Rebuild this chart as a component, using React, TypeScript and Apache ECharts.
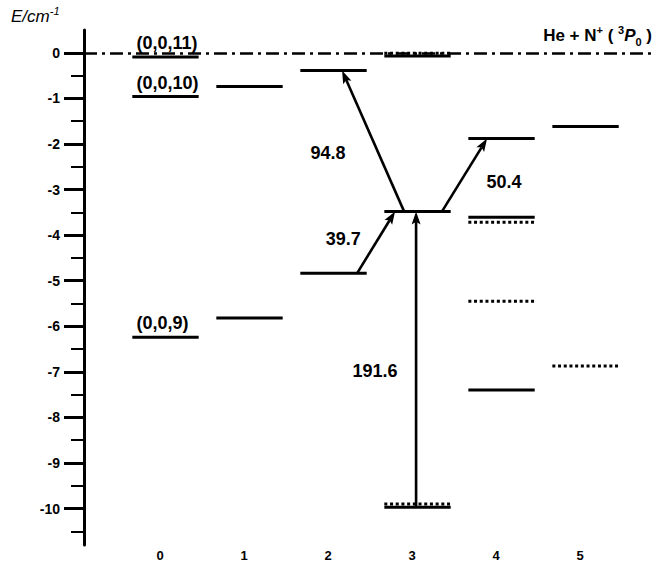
import React, { useEffect, useRef } from 'react';
import * as echarts from 'echarts';

// ---- data ----
const columnTicks = [0, 1, 2, 3, 4, 5];
const energyTicks = [0, -1, -2, -3, -4, -5, -6, -7, -8, -9, -10];
const minorEnergyTicks = [-0.5, -1.5, -2.5, -3.5, -4.5, -5.5, -6.5, -7.5, -8.5, -9.5, -10.5];

// [column, energy / cm^-1]
const solidLevels: number[][] = [
  [0, -0.09], [0, -0.96], [0, -6.24],
  [1, -0.74], [1, -5.82],
  [2, -0.39], [2, -4.84],
  [3, -0.07], [3, -3.48], [3, -9.97],
  [4, -1.88], [4, -3.61], [4, -7.4],
  [5, -1.62],
];
const dottedLevels: number[][] = [
  [3, -0.01], [3, -9.9],
  [4, -3.72], [4, -5.45],
  [5, -6.87],
];
const levelLabelColumn = [0, 0, 0];
const levelLabelEnergy = [-0.09, -0.96, -6.24];
const levelLabelText = ['(0,0,11)', '(0,0,10)', '(0,0,9)'];

// arrows: start [x, E], end [x, E]
const arrowFrom: number[][] = [[2.905, -3.48], [3.357, -3.48], [2.345, -4.84], [3.048, -9.95]];
const arrowTo: number[][] = [[2.167, -0.39], [3.893, -1.88], [2.798, -3.48], [3.048, -3.48]];
const arrowText = ['94.8', '50.4', '39.7', '191.6'];
const arrowTextAt: number[][] = [[2.0, -2.19], [4.095, -2.84], [2.18, -4.09], [2.56, -6.98]];

const dissociationEnergy = 0;

const FONT = '"Liberation Sans", Arial, Helvetica, sans-serif';
const LEVEL_LEFT = -0.33;
const LEVEL_RIGHT = 0.46;

export default function App() {
  const ref = useRef<HTMLDivElement>(null);
  useEffect(() => {
    document.body.style.margin = '0';
    const chart = echarts.init(ref.current as HTMLDivElement, null, { renderer: 'svg' });

    const levelSeries = (data: number[][], dash: number[] | null) => ({
      type: 'custom',
      coordinateSystem: 'cartesian2d',
      silent: true,
      clip: false,
      data,
      renderItem: (_p: any, api: any) => {
        const n = api.value(0);
        const e = api.value(1);
        const a = api.coord([n + LEVEL_LEFT, e]);
        const b = api.coord([n + LEVEL_RIGHT, e]);
        return {
          type: 'line',
          shape: { x1: a[0], y1: a[1], x2: b[0], y2: b[1] },
          style: { stroke: '#000', lineWidth: 3, lineDash: dash || undefined },
        };
      },
    });

    const arrowData = arrowFrom.map((f, i) => [f[0], f[1], arrowTo[i][0], arrowTo[i][1]]);

    const option: any = {
      animation: false,
      grid: { left: 84, right: 0, top: 30, bottom: 15 },
      xAxis: {
        type: 'value',
        min: -0.905,
        max: 5.88,
        axisLine: { show: false, onZero: false },
        axisTick: { show: false },
        splitLine: { show: false },
        axisLabel: {
          customValues: columnTicks,
          margin: 4,
          fontSize: 13,
          fontWeight: 'bold',
          fontFamily: FONT,
          color: '#000',
        },
      },
      yAxis: [
        {
          type: 'value',
          min: -10.8,
          max: 0.5,
          position: 'left',
          axisLine: { show: true, onZero: false, lineStyle: { color: '#000', width: 3 } },
          axisTick: { show: true, customValues: energyTicks, length: 20, lineStyle: { color: '#000', width: 3 } },
          axisLabel: {
            customValues: energyTicks,
            margin: 24,
            fontSize: 14,
            fontWeight: 'bold',
            fontFamily: FONT,
            color: '#000',
          },
          splitLine: { show: false },
        },
        {
          type: 'value',
          min: -10.8,
          max: 0.5,
          position: 'left',
          axisLine: { show: false, onZero: false },
          axisTick: { show: true, customValues: minorEnergyTicks, length: 13, lineStyle: { color: '#000', width: 2 } },
          axisLabel: { show: false },
          splitLine: { show: false },
        },
      ],
      graphic: [
        {
          type: 'text',
          left: 11,
          top: 5,
          style: {
            text: '{i|E/cm}{s|-1}',
            rich: {
              i: { fontSize: 17, fontStyle: 'italic', fontFamily: FONT, fill: '#000', lineHeight: 22 },
              s: { fontSize: 11, fontStyle: 'italic', fontFamily: FONT, fill: '#000', lineHeight: 11, verticalAlign: 'top' },
            },
          },
        },
        {
          type: 'text',
          right: 2,
          top: 24,
          style: {
            text: '{b|He + N}{sup|+}{b| ( }{sup|3}{i|P}{sub|0}{b| )}',
            rich: {
              b: { fontSize: 17, fontWeight: 'bold', fontFamily: FONT, fill: '#000', lineHeight: 23 },
              i: { fontSize: 17, fontWeight: 'bold', fontStyle: 'italic', fontFamily: FONT, fill: '#000', lineHeight: 23 },
              sup: { fontSize: 11, fontWeight: 'bold', fontFamily: FONT, fill: '#000', lineHeight: 11, verticalAlign: 'top' },
              sub: { fontSize: 11, fontWeight: 'bold', fontFamily: FONT, fill: '#000', lineHeight: 11, verticalAlign: 'bottom' },
            },
          },
        },
      ],
      series: [
        {
          type: 'line',
          data: [],
          silent: true,
          markLine: {
            silent: true,
            symbol: ['none', 'none'],
            label: { show: false },
            lineStyle: { color: '#000', width: 2.5, type: [13, 5, 3, 5] },
            data: [{ yAxis: dissociationEnergy }],
          },
        },
        levelSeries(solidLevels, null),
        levelSeries(dottedLevels, [3, 2.7]),
        {
          type: 'custom',
          coordinateSystem: 'cartesian2d',
          silent: true,
          clip: false,
          data: levelLabelText.map((t, i) => [levelLabelColumn[i], levelLabelEnergy[i], t]),
          renderItem: (_p: any, api: any) => {
            const p = api.coord([api.value(0) - 0.28, api.value(1)]);
            return {
              type: 'text',
              x: p[0],
              y: p[1] - 14,
              style: {
                text: String(api.value(2)),
                font: `bold 18px ${FONT}`,
                fill: '#000',
                align: 'left',
                textAlign: 'left',
                verticalAlign: 'middle',
                textVerticalAlign: 'middle',
              },
            };
          },
        },
        {
          type: 'custom',
          coordinateSystem: 'cartesian2d',
          silent: true,
          clip: false,
          encode: { x: [0, 2], y: [1, 3] },
          data: arrowData,
          renderItem: (_p: any, api: any) => {
            const a = api.coord([api.value(0), api.value(1)]);
            const b = api.coord([api.value(2), api.value(3)]);
            const dx = b[0] - a[0];
            const dy = b[1] - a[1];
            const len = Math.sqrt(dx * dx + dy * dy);
            const ux = dx / len;
            const uy = dy / len;
            const px = -uy;
            const py = ux;
            const hl = 13;
            const hw = 4.5;
            const back = [b[0] - ux * hl, b[1] - uy * hl];
            const notch = [b[0] - ux * hl * 0.8, b[1] - uy * hl * 0.8];
            return {
              type: 'group',
              children: [
                {
                  type: 'line',
                  shape: { x1: a[0], y1: a[1], x2: notch[0], y2: notch[1] },
                  style: { stroke: '#000', lineWidth: 2.6 },
                },
                {
                  type: 'polygon',
                  shape: {
                    points: [
                      [b[0], b[1]],
                      [back[0] + px * hw, back[1] + py * hw],
                      [notch[0], notch[1]],
                      [back[0] - px * hw, back[1] - py * hw],
                    ],
                  },
                  style: { fill: '#000' },
                },
              ],
            };
          },
        },
        {
          type: 'custom',
          coordinateSystem: 'cartesian2d',
          silent: true,
          clip: false,
          data: arrowText.map((t, i) => [arrowTextAt[i][0], arrowTextAt[i][1], t]),
          renderItem: (_p: any, api: any) => {
            const p = api.coord([api.value(0), api.value(1)]);
            return {
              type: 'text',
              x: p[0],
              y: p[1],
              style: {
                text: String(api.value(2)),
                font: `bold 18px ${FONT}`,
                fill: '#000',
                align: 'center',
                textAlign: 'center',
                verticalAlign: 'middle',
                textVerticalAlign: 'middle',
              },
            };
          },
        },
      ],
    };
    chart.setOption(option);
    return () => chart.dispose();
  }, []);
  return <div ref={ref} style={{ width: 654, height: 562 }} />;
}
